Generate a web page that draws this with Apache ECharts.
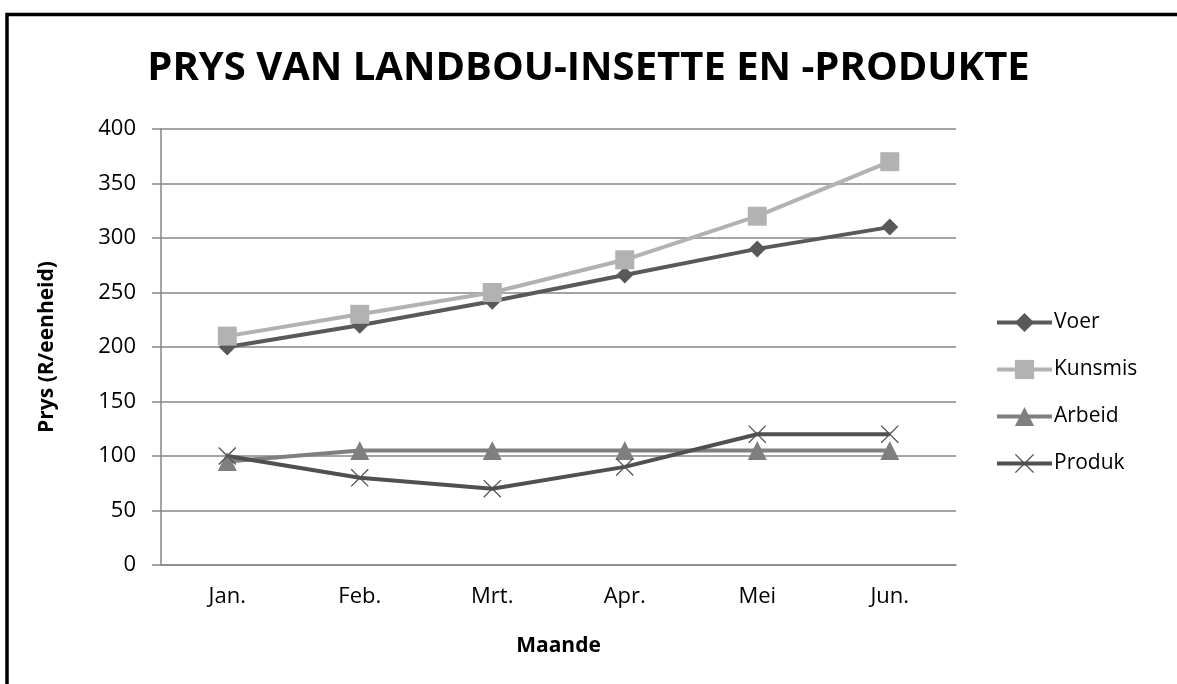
<!DOCTYPE html>
<html><head><meta charset="utf-8">
<script src="https://cdn.jsdelivr.net/npm/echarts@6/dist/echarts.min.js"></script>
<style>html,body{margin:0;padding:0;background:#fff}#c{width:1177px;height:684px}</style>
</head><body><div id="c"></div>
<script>
const categories = ['Jan.', 'Feb.', 'Mrt.', 'Apr.', 'Mei', 'Jun.'];
const voer = [200, 220, 242, 266, 290, 310];
const kunsmis = [210, 230, 250, 280, 320, 370];
const arbeid = [95, 105, 105, 105, 105, 105];
const produk = [100, 80, 70, 90, 120, 120];
const yTicks = [0, 50, 100, 150, 200, 250, 300, 350, 400];

const FONT = '"Open Sans", "Liberation Sans", sans-serif';
const crossPath = 'path://M0,1 L1,0 L10,9 L19,0 L20,1 L11,10 L20,19 L19,20 L10,11 L1,20 L0,19 L9,10 Z';

const chart = echarts.init(document.getElementById('c'));
function mk(name, data, color, symbol, size) {
  return {
    name, type: 'line', data, symbol, symbolSize: size,
    lineStyle: { color, width: 4 },
    itemStyle: { color },
    emphasis: { disabled: true },
    animation: false
  };
}
chart.setOption({
  animation: false,
  backgroundColor: '#fff',
  title: {
    text: 'PRYS VAN LANDBOU-INSETTE EN -PRODUKTE',
    left: 'center', top: 44,
    textStyle: { fontFamily: FONT, fontWeight: 'bold', fontSize: 40, color: '#000' }
  },
  graphic: [{
    type: 'rect', shape: { x: 7, y: 14.5, width: 1200, height: 700 },
    style: { fill: 'none', stroke: '#000', lineWidth: 3.5 }, silent: true
  }],
  legend: {
    orient: 'vertical', left: 990, top: 307, itemGap: 26,
    itemWidth: 55, itemHeight: 24,
    lineStyle: { width: 4 },
    textStyle: { fontFamily: FONT, fontSize: 21, color: '#000', padding: [0, 0, 0, -3] },
    data: ['Voer', 'Kunsmis', 'Arbeid', 'Produk']
  },
  grid: { left: 161, right: 221, top: 129, bottom: 119 },
  xAxis: {
    type: 'category', data: categories, boundaryGap: true,
    name: 'Maande', nameLocation: 'middle', nameGap: 71,
    nameTextStyle: { fontFamily: FONT, fontWeight: 'bold', fontSize: 21, color: '#000' },
    axisLine: { lineStyle: { color: '#868686', width: 1.5 } },
    axisTick: { show: false },
    axisLabel: { fontFamily: FONT, fontSize: 22, color: '#000', margin: 21 }
  },
  yAxis: {
    type: 'value', min: 0, max: 400, interval: 50,
    name: 'Prys (R/eenheid)', nameLocation: 'middle', nameGap: 103, nameRotate: 90,
    nameTextStyle: { fontFamily: FONT, fontWeight: 'bold', fontSize: 21, color: '#000' },
    axisLine: { show: true, lineStyle: { color: '#868686', width: 1.5 } },
    axisTick: { show: true, length: 9, lineStyle: { color: '#868686', width: 1.5 } },
    splitLine: { lineStyle: { color: '#868686', width: 1.5 } },
    axisLabel: { fontFamily: FONT, fontSize: 22, color: '#000', margin: 25,
      formatter: v => yTicks.includes(v) ? String(v) : '' }
  },
  series: [
    mk('Voer', voer, '#595959', 'diamond', 17),
    mk('Kunsmis', kunsmis, '#b2b2b2', 'rect', 19),
    mk('Arbeid', arbeid, '#7f7f7f', 'triangle', 19),
    mk('Produk', produk, '#505050', crossPath, 18)
  ]
});
</script></body></html>
